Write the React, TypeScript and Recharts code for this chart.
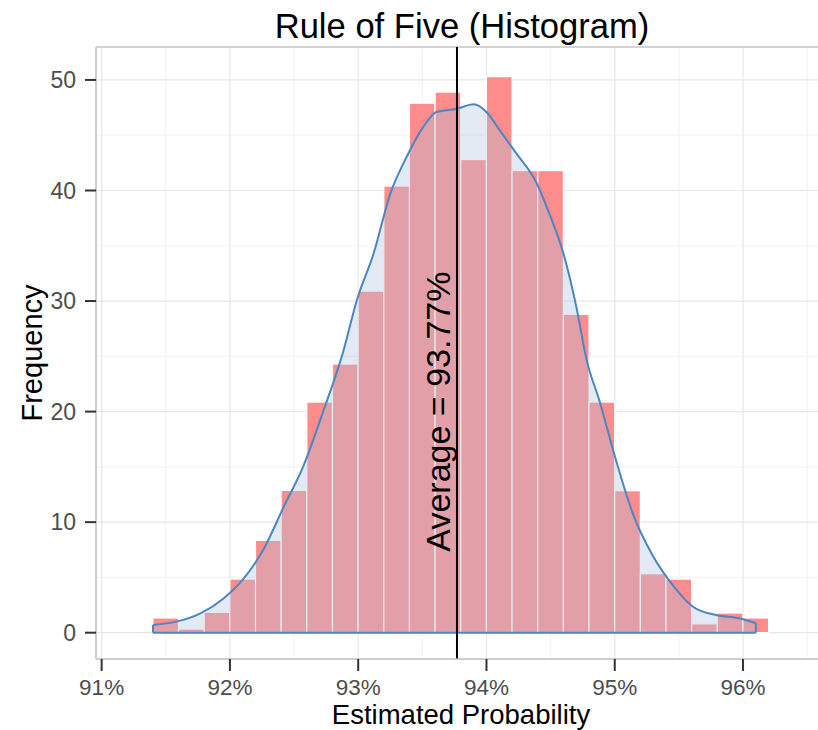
import {
  ComposedChart,
  Bar,
  Area,
  XAxis,
  YAxis,
  CartesianGrid,
  ReferenceLine,
  ReferenceDot,
  Label,
} from "recharts";

// histogram bins (bin centre, %) and their heights
const binCenters = [
  91.5, 91.7, 91.9, 92.1, 92.3, 92.5, 92.7, 92.9, 93.1, 93.3, 93.5, 93.7,
  93.9, 94.1, 94.3, 94.5, 94.7, 94.9, 95.1, 95.3, 95.5, 95.7, 95.9, 96.1,
];
const binCounts = [
  1.33, 0.33, 1.84, 4.85, 8.35, 12.87, 20.86, 24.3, 30.9, 40.4, 47.9, 48.9,
  42.8, 50.3, 41.8, 41.8, 28.8, 20.86, 12.84, 5.33, 4.85, 0.8, 1.78, 1.33,
];

// density outline
const densityX = [
  91.4, 91.58, 91.77, 91.95, 92.1, 92.26, 92.42, 92.57, 92.73, 92.88, 92.99,
  93.12, 93.25, 93.38, 93.51, 93.61, 93.77, 93.9, 94.0, 94.1, 94.23, 94.39,
  94.49, 94.6, 94.7, 94.78, 94.88, 95.01, 95.14, 95.3, 95.46, 95.61, 95.79,
  95.97, 96.1,
];
const densityY = [
  0.7, 1.0, 1.75, 3.1, 4.8, 7.5, 11.4, 15.0, 20.1, 25.3, 30.1, 34.3, 39.7,
  43.1, 45.8, 47.1, 47.4, 47.8, 47.1, 45.5, 43.4, 40.7, 37.9, 34.3, 29.5,
  24.7, 21.0, 15.6, 10.8, 6.9, 4.2, 2.35, 1.6, 1.3, 0.85,
];

const averageValue = 93.77;
const averageLabelY = 20;

const xTicks = [91, 92, 93, 94, 95, 96];
const xMinor = [91.5, 92.5, 93.5, 94.5, 95.5, 96.5];
const yTicks = [0, 10, 20, 30, 40, 50];
const yMinor = [5, 15, 25, 35, 45];

const X_MIN = 90.956;
const X_MAX = 96.6;
const Y_MIN = -2.38;
const Y_MAX = 52.98;
const BIN_WIDTH = 0.2;

const CHART_W = 830;
const CHART_H = 730;
const MARGIN = { top: 47, right: 10, left: 0, bottom: 0 };
const Y_AXIS_W = 96;
const X_AXIS_H = 71;
const PLOT_W = CHART_W - MARGIN.left - MARGIN.right - Y_AXIS_W;
const BAR_PX = (PLOT_W * BIN_WIDTH) / (X_MAX - X_MIN);

const FONT = "'Liberation Sans', Arial, Helvetica, sans-serif";
const BLUE = "#4a86c2";

const binRows = binCenters.map((x, i) => ({ x, count: binCounts[i] }));
const densityRows = densityX.map((x, i) => ({ x, density: densityY[i] }));

const dFirst = { x: densityX[0], y: densityY[0] };
const dLast = { x: densityX[densityX.length - 1], y: densityY[densityY.length - 1] };

// recharts squeezes bars on a number axis, so widen each one round its centre
const HistBar = (props: any) => {
  const { x, y, width, height } = props;
  if (height == null || isNaN(height)) return null;
  const cx = x + width / 2;
  return (
    <rect
      x={cx - BAR_PX / 2}
      y={y}
      width={BAR_PX}
      height={height}
      fill="#ff8c8c"
      stroke="#ffffff"
      strokeWidth={1.2}
    />
  );
};

const renderXLabel = (props: any) => {
  const { x, y } = props.viewBox;
  return (
    <text x={x + 365} y={y + 65} textAnchor="middle" fontSize={27.5} fill="#000">
      Estimated Probability
    </text>
  );
};

const renderYLabel = (props: any) => {
  const { x, y, height } = props.viewBox;
  const cx = x + 42;
  const cy = y + height / 2;
  return (
    <text
      x={cx}
      y={cy}
      transform={`rotate(-90 ${cx} ${cy})`}
      textAnchor="middle"
      fontSize={29}
      fill="#000"
    >
      Frequency
    </text>
  );
};

const renderAverageLabel = (props: any) => {
  const { x, y, width, height } = props.viewBox;
  const cx = x + (width || 0) / 2 - 7;
  const cy = y + (height || 0) / 2;
  return (
    <text
      x={cx}
      y={cy}
      transform={`rotate(-90 ${cx} ${cy})`}
      textAnchor="middle"
      fontSize={34}
      fill="#000"
    >
      {`Average = ${averageValue}%`}
    </text>
  );
};

export default function App() {
  return (
    <div
      style={{
        position: "absolute",
        left: 0,
        top: 0,
        width: 818,
        height: CHART_H,
        overflow: "hidden",
        background: "#fff",
        fontFamily: FONT,
      }}
    >
      <div
        style={{
          position: "absolute",
          left: 96,
          width: 732,
          top: 9,
          textAlign: "center",
          fontSize: 34.6,
          lineHeight: 1,
          color: "#000",
          zIndex: 2,
        }}
      >
        Rule of Five (Histogram)
      </div>
      <ComposedChart width={CHART_W} height={CHART_H} data={binRows} margin={MARGIN}>
        <CartesianGrid stroke="#f3f3f3" strokeWidth={1.2} verticalValues={xMinor} horizontalValues={yMinor} />
        <CartesianGrid stroke="#e6e6e6" strokeWidth={1.2} verticalValues={xTicks} horizontalValues={yTicks} />
        <XAxis
          dataKey="x"
          type="number"
          domain={[X_MIN, X_MAX]}
          allowDataOverflow
          ticks={xTicks}
          interval={0}
          tickFormatter={(v) => `${v}%`}
          height={X_AXIS_H}
          tickSize={12}
          tickMargin={8}
          axisLine={{ stroke: "#bdbdbd", strokeWidth: 1.5 }}
          tickLine={{ stroke: "#333", strokeWidth: 2 }}
          tick={{ fill: "#4d4d4d", fontSize: 22.5 }}
        >
          <Label content={renderXLabel} />
        </XAxis>
        <YAxis
          type="number"
          domain={[Y_MIN, Y_MAX]}
          allowDataOverflow
          ticks={yTicks}
          interval={0}
          width={Y_AXIS_W}
          tickSize={11}
          tickMargin={9}
          axisLine={{ stroke: "#bdbdbd", strokeWidth: 1.5 }}
          tickLine={{ stroke: "#333", strokeWidth: 2 }}
          tick={{ fill: "#4d4d4d", fontSize: 23 }}
        >
          <Label content={renderYLabel} />
        </YAxis>
        <ReferenceLine y={Y_MAX} stroke="#c4c4c4" strokeWidth={1.5} />
        <Bar
          dataKey="count"
          barSize={BAR_PX}
          shape={HistBar}
          fill="#ff8c8c"
          isAnimationActive={false}
        />
        <Area
          data={densityRows}
          dataKey="density"
          type="monotone"
          baseValue={0}
          stroke={BLUE}
          strokeWidth={2}
          fill="#b0c4de"
          fillOpacity={0.35}
          dot={false}
          activeDot={false}
          isAnimationActive={false}
          zIndex={350}
        />
        <ReferenceLine
          segment={[{ x: dFirst.x, y: dFirst.y }, { x: dFirst.x, y: 0 }]}
          stroke={BLUE}
          strokeWidth={2}
          zIndex={400}
        />
        <ReferenceLine
          segment={[{ x: dFirst.x, y: 0 }, { x: dLast.x, y: 0 }]}
          stroke={BLUE}
          strokeWidth={2}
          zIndex={400}
        />
        <ReferenceLine
          segment={[{ x: dLast.x, y: 0 }, { x: dLast.x, y: dLast.y }]}
          stroke={BLUE}
          strokeWidth={2}
          zIndex={400}
        />
        <ReferenceLine x={averageValue} stroke="#000" strokeWidth={2} zIndex={450} />
        <ReferenceDot
          x={averageValue}
          y={averageLabelY}
          r={1}
          fill="none"
          stroke="none"
          label={renderAverageLabel}
          zIndex={450}
        />
      </ComposedChart>
    </div>
  );
}
